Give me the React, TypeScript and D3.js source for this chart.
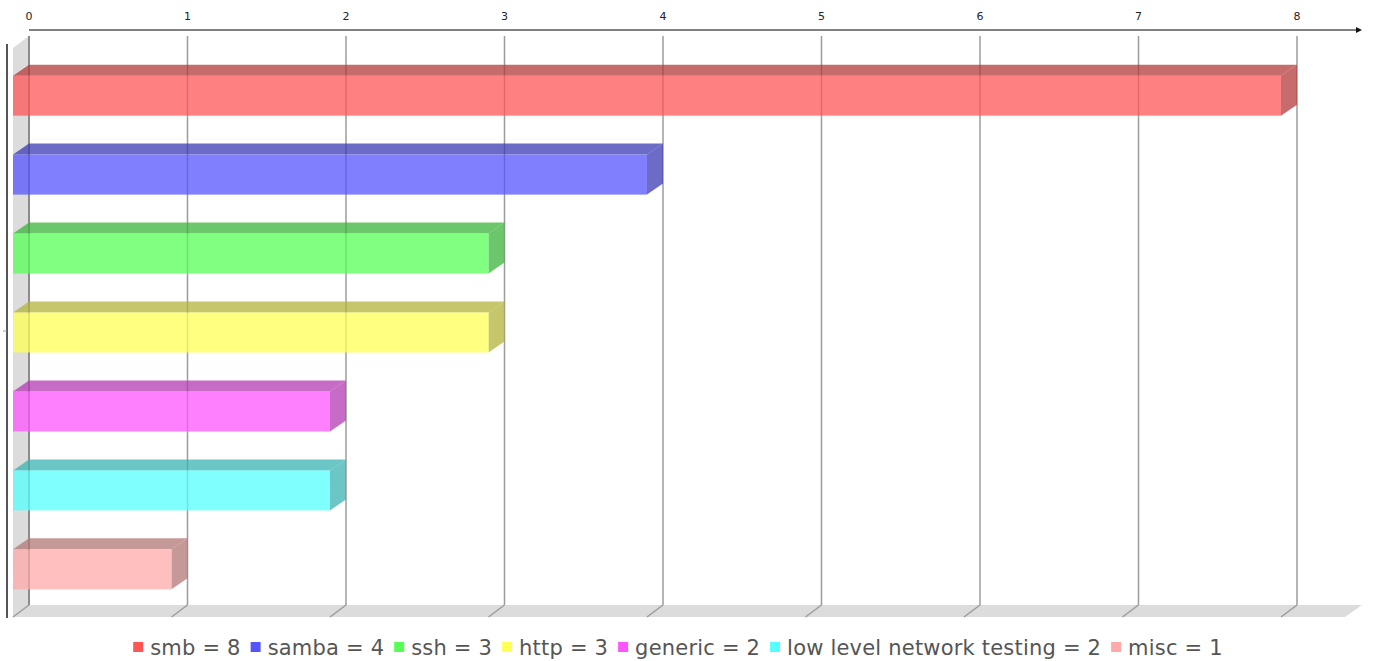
import React from "react";
import * as d3 from "d3";

// Test counts per category
const categories = ["smb", "samba", "ssh", "http", "generic", "low level network testing", "misc"];
const counts = [8, 4, 3, 3, 2, 2, 1];
const baseColors = ["#ff5555", "#5555ff", "#55ff55", "#ffff55", "#ff55ff", "#55ffff", "#ffaaaa"];
const xTicks = [0, 1, 2, 3, 4, 5, 6, 7, 8];

const W = 1373;
const H = 661;
const DX = 16; // depth offset (x)
const DY = 11; // depth offset (y)

const LEGEND_SIZE = 21;
const LEGEND_SPACING = 0.2;
const LEGEND_FONT = `${LEGEND_SIZE}px 'DejaVu Sans'`;

function measure(text: string): number {
  const c = document.createElement("canvas").getContext("2d");
  if (!c) return text.length * 11;
  c.font = LEGEND_FONT;
  return c.measureText(text).width + text.length * LEGEND_SPACING;
}

export default function App() {
  // back-plane x scale
  const x = d3.scaleLinear().domain([0, 8]).range([29, 1297]);
  // front-plane band scale
  const y = d3
    .scaleBand<string>()
    .domain(categories)
    .range([48, 617])
    .paddingInner(0.493)
    .paddingOuter(0.35);

  const backTop = 36;
  const backBottom = 605;
  const floorRight = 1362;

  const darker = (c: string) => {
    const col = d3.rgb(c);
    return d3.rgb(col.r * 0.7, col.g * 0.7, col.b * 0.7).toString();
  };

  // legend layout
  const labels = categories.map((c, i) => `${c} = ${counts[i]}`);
  const widths = labels.map(measure);
  const sq = 10;
  const gapSqText = 7;
  const gapItems = 10;
  const total =
    widths.reduce((a, b) => a + b, 0) + labels.length * (sq + gapSqText) + (labels.length - 1) * gapItems;
  let cursor = 678 - total / 2;
  const legendItems = labels.map((l, i) => {
    const item = { label: l, color: baseColors[i], x: cursor };
    cursor += sq + gapSqText + widths[i] + gapItems;
    return item;
  });

  return (
    <svg
      width={W}
      height={H}
      style={{ position: "absolute", left: 0, top: 0, background: "#fff" }}
      fontFamily="'DejaVu Sans', sans-serif"
    >
      {/* left wall */}
      <polygon
        points={`${x(0) - DX},${backTop + 12} ${x(0)},${backTop} ${x(0)},${backBottom} ${x(0) - DX},${backBottom + 12}`}
        fill="#dcdcdc"
      />
      {/* floor */}
      <polygon
        points={`${x(0) - DX},${backBottom + 12} ${x(0)},${backBottom} ${floorRight},${backBottom} ${floorRight - DX - 1},${backBottom + 12}`}
        fill="#dcdcdc"
      />
      {/* vertical grid lines */}
      {xTicks.map((t) => (
        <g key={`g${t}`}>
          <line
            x1={x(t)}
            x2={x(t)}
            y1={backTop}
            y2={backBottom}
            stroke={t === 0 ? "#8c8c8c" : "#9c9c9c"}
            strokeWidth={t === 0 ? 2 : 1.5}
          />
          <line
            x1={x(t)}
            x2={x(t) - DX}
            y1={backBottom}
            y2={backBottom + 12}
            stroke="#9c9c9c"
            strokeWidth={1.5}
          />
        </g>
      ))}
      {/* left axis line */}
      <line x1={7} x2={7} y1={44} y2={618} stroke="#555" strokeWidth={2} />
      <line x1={3} x2={7} y1={331} y2={331} stroke="#999" strokeWidth={1} />

      {/* top axis */}
      <line x1={x(0)} x2={1358} y1={30} y2={30} stroke="#808080" strokeWidth={2} />
      <polygon points="1356,27 1362,30 1356,33" fill="#111" />
      {xTicks.map((t) => (
        <text key={`t${t}`} x={x(t)} y={20} fontSize={11} textAnchor="middle" fill="#222">
          {t}
        </text>
      ))}

      {/* bars */}
      {categories.map((c, i) => {
        const y0 = y(c) as number;
        const bh = y.bandwidth();
        const xb0 = x(0);
        const xb1 = x(counts[i]);
        const xf0 = xb0 - DX;
        const xf1 = xb1 - DX;
        const dark = darker(baseColors[i]);
        return (
          <g key={c}>
            <polygon
              points={`${xf0},${y0} ${xb0},${y0 - DY} ${xb1},${y0 - DY} ${xf1},${y0}`}
              fill={dark}
              fillOpacity={0.75}
            />
            <polygon
              points={`${xf1},${y0} ${xb1},${y0 - DY} ${xb1},${y0 + bh - DY} ${xf1},${y0 + bh}`}
              fill={dark}
              fillOpacity={0.75}
            />
            <rect x={xf0} y={y0} width={xf1 - xf0} height={bh} fill={baseColors[i]} fillOpacity={0.75} />
          </g>
        );
      })}

      {/* legend */}
      {legendItems.map((it) => (
        <g key={it.label}>
          <rect x={it.x} y={642} width={sq} height={sq} fill={it.color} />
          <text
            x={it.x + sq + gapSqText}
            y={655}
            fontSize={LEGEND_SIZE}
            letterSpacing={LEGEND_SPACING}
            fill="#555"
          >
            {it.label}
          </text>
        </g>
      ))}
    </svg>
  );
}
